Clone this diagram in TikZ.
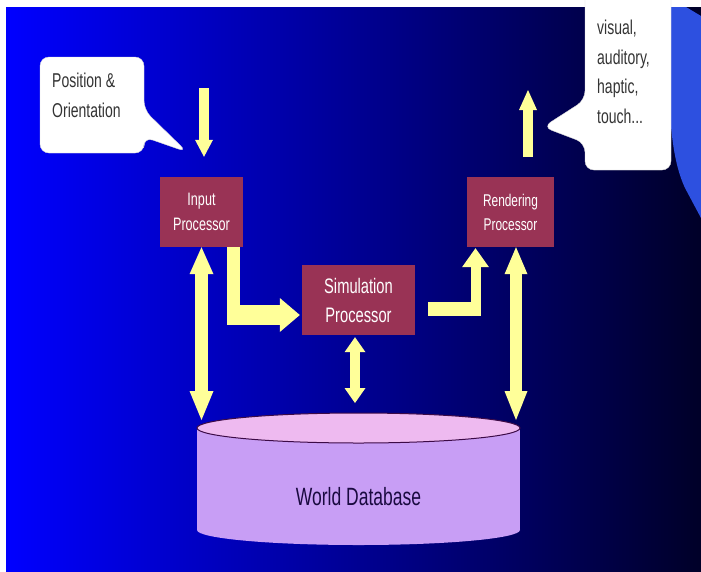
\documentclass[tikz,border=0pt]{standalone}
\usepackage{fontspec}
\setmainfont{Liberation Sans}[FakeStretch=0.7]
\usetikzlibrary{arrows.meta}
\usetikzlibrary{calc}
\definecolor{procred}{RGB}{153,51,85}
\definecolor{arrowyellow}{RGB}{255,255,153}
\definecolor{bgleft}{RGB}{0,0,255}
\definecolor{bgright}{RGB}{0,0,40}
\definecolor{cornerblue}{RGB}{45,80,224}
\definecolor{dbtop}{RGB}{238,186,240}
\definecolor{dbbody}{RGB}{200,158,245}
\definecolor{dbline}{RGB}{60,10,70}
\definecolor{dbtext}{RGB}{26,10,64}
\definecolor{notetext}{RGB}{51,51,51}
\tikzset{proc/.style = {fill=procred, text=white, align=center, inner sep=0, minimum height=70}}
\tikzset{bubble/.style = {fill=white, draw=black!15, rounded corners=9}}
\tikzset{notetxt/.style = {text=notetext, align=left, inner sep=0, anchor=north west,
                           font=\fontsize{20}{30}\selectfont}}
\tikzset{fat/.style = {draw=arrowyellow, line width=#1}}

\begin{document}
\begin{tikzpicture}[x=1pt, y=-1pt]
  \useasboundingbox (0,0) rectangle (701,571);
  \fill [white] (0,0) rectangle (701,571);
  \shade [left color=bgleft, right color=bgright] (6,7) rectangle (701,571);
  \fill [cornerblue] (666,7) -- (686,7) -- (701,16) -- (701,218)
        -- (685,188) .. controls (672,160) and (669,120) .. (668,60) -- cycle;

  % callouts
  \path [bubble] (40,57) -- (144,57) -- (144,110) -- (187,152) -- (144,137)
        -- (144,153) -- (40,153) -- cycle;
  \node (posnote) [notetxt] at (52,73) {Position \&\\Orientation};
  \begin{scope}
    \clip (0,0) rectangle (701,571);
    \path [bubble] (585,-20) -- (671,-20) -- (671,170) -- (585,170) -- (585,143)
          -- (543,127) -- (585,100) -- cycle;
  \end{scope}
  \node (outnote) [notetxt, font=\fontsize{20}{29.5}\selectfont] at (597,20)
        {visual,\\auditory,\\haptic,\\touch...};

  % processors
  \node (inp) [proc, minimum width=83, font=\fontsize{18}{25}\selectfont] at (201.5,212) {Input\\Processor};
  \node (rend) [proc, minimum width=87, font=\fontsize{17}{24}\selectfont] at (510.5,212) {Rendering\\Processor};
  \node (sim) [proc, minimum width=113, font=\fontsize{21}{29}\selectfont] at (358.5,300) {Simulation\\Processor};

  % database
  \fill [dbbody] (197,428) rectangle (520,530);
  \fill [dbbody] (358.5,530) ellipse [x radius=161.5, y radius=15];
  \filldraw [fill=dbtop, draw=dbline, line width=1] (358.5,428) ellipse [x radius=161.5, y radius=15];
  \node (db) [text=dbtext, font=\fontsize{25}{30}\selectfont] at (358.5,497) {World Database};

  \coordinate (posin) at (204,88);
  \coordinate (rendout) at (528,90);
  \coordinate (bend1) at (233.5,315);
  \coordinate (bend2) at (475.5,309);
  \coordinate (dbl) at (201.5,420);
  \coordinate (dbm) at (355,403);
  \coordinate (dbr) at (516,420);

  \draw [fat=10pt, -{Triangle[length=17pt, width=18pt, line width=0pt]}]
        (posin) -- ([xshift=2.5pt, yshift=20pt]inp.north);
  \draw [fat=10pt, -{Triangle[length=20pt, width=18pt, line width=0pt]}]
        ([xshift=17.5pt, yshift=20pt]rend.north) -- (rendout);

  \draw [fat=13pt] ([xshift=32pt]inp.south) -- ($(bend1)+(0,10)$);
  \draw [fat=20pt, -{Triangle[length=20pt, width=34pt, line width=0pt]}]
        ($(bend1)+(-6.5,0)$) -- ([xshift=-2pt, yshift=-15pt]sim.west);
  \draw [fat=14pt] ([xshift=13pt, yshift=-9pt]sim.east) -- ($(bend2)+(5,0)$);
  \draw [fat=10pt, -{Triangle[length=19pt, width=27pt, line width=0pt]}]
        ($(bend2)+(0,7)$) -- ([xshift=-35pt, yshift=-1pt]rend.south);

  \draw [fat=13pt, {Triangle[length=27pt, width=24pt, line width=0pt]}-{Triangle[length=29pt, width=24pt, line width=0pt]}]
        (inp.south) -- (dbl);
  \draw [fat=10pt, {Triangle[length=15pt, width=21pt, line width=0pt]}-{Triangle[length=15pt, width=21pt, line width=0pt]}]
        ([xshift=-3.5pt, yshift=-2pt]sim.south) -- (dbm);
  \draw [fat=12pt, {Triangle[length=27pt, width=23pt, line width=0pt]}-{Triangle[length=29pt, width=23pt, line width=0pt]}]
        ([xshift=5.5pt]rend.south) -- (dbr);
\end{tikzpicture}
\end{document}
